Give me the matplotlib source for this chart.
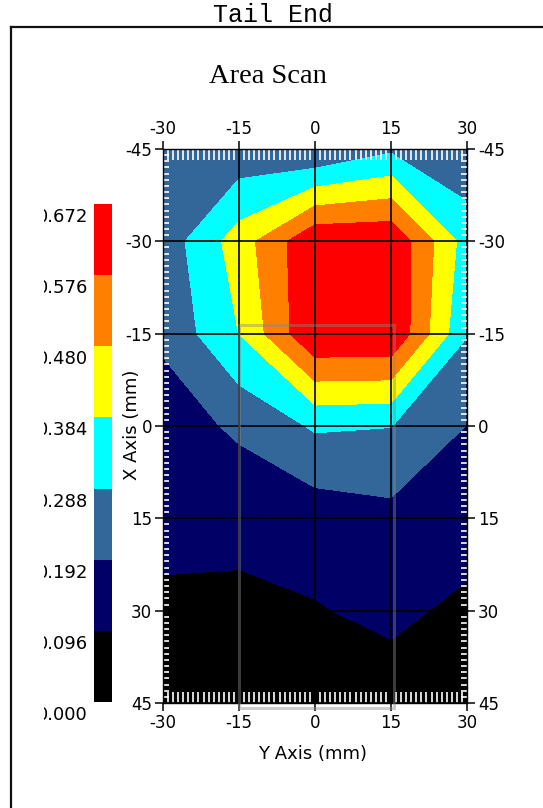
import matplotlib
matplotlib.use("Agg")
import matplotlib.pyplot as plt
import numpy as np
from matplotlib.lines import Line2D
from matplotlib.patches import Rectangle
from matplotlib.ticker import MultipleLocator
from matplotlib.transforms import Bbox, TransformedBbox

# scan grid (mm)
y_axis_mm = [-30, -15, 0, 15, 30]
x_axis_mm = [-45, -30, -15, 0, 15, 30, 45]

# measured values, one row per X Axis position
z_rows = [
    [0.230, 0.220, 0.190, 0.270, 0.220],
    [0.230, 0.430, 0.660, 0.660, 0.340],
    [0.210, 0.385, 0.670, 0.670, 0.292],
    [0.140, 0.210, 0.300, 0.290, 0.190],
    [0.115, 0.117, 0.138, 0.164, 0.140],
    [0.084, 0.079, 0.090, 0.117, 0.075],
    [0.030, 0.030, 0.040, 0.050, 0.040],
]

levels = [0.000, 0.096, 0.192, 0.288, 0.384, 0.480, 0.576, 0.672]
band_colors = ["#000000", "#000066", "#336699", "#00ffff",
               "#ffff00", "#ff8000", "#ff0000"]

W, H = 543, 808


def fx(px):
    return px / W


def fy(px):
    return 1 - px / H


plt.rcParams["font.family"] = "DejaVu Sans"
plt.rcParams["axes.unicode_minus"] = False

fig = plt.figure(figsize=(W / 100, H / 100), dpi=100)

# outer frame (only top and left edges are visible)
fig.add_artist(Line2D([fx(10.5), 1.0], [fy(27), fy(27)], transform=fig.transFigure,
                      color="#111111", lw=1.6))
fig.add_artist(Line2D([fx(10.5), fx(10.5)], [fy(27), 0.0], transform=fig.transFigure,
                      color="#111111", lw=1.6))

fig.text(fx(273), fy(21.7), "Tail End", family="Liberation Mono", size=18,
         ha="center", va="baseline")
fig.text(fx(267.5), fy(83.3), "Area Scan", family="Liberation Serif", size=20.5,
         ha="center", va="baseline")

# main contour plot
ax = fig.add_axes([fx(163), fy(703), (467 - 163) / W, (703 - 149) / H])
X, Y = np.meshgrid(y_axis_mm, x_axis_mm)
Z = np.array(z_rows)
cf = ax.contourf(X, Y, Z, levels=levels, colors=band_colors)

ax.set_xlim(-30, 30)
ax.set_ylim(45, -45)
ax.xaxis.set_major_locator(MultipleLocator(15))
ax.yaxis.set_major_locator(MultipleLocator(15))
ax.xaxis.set_minor_locator(MultipleLocator(1))
ax.yaxis.set_minor_locator(MultipleLocator(1))
ax.grid(which="major", color="black", lw=1.2)

ax.tick_params(which="both", top=True, right=True, labeltop=True, labelright=True)
ax.tick_params(which="major", direction="out", length=6, width=1.1, color="black",
               labelsize=12, pad=2)
ax.tick_params(axis="x", which="minor", direction="in", color="white",
               length=8, width=1.2)
ax.tick_params(axis="y", which="minor", direction="in", color="white",
               length=4.5, width=1.2)
for s in ax.spines.values():
    s.set_color("black")
    s.set_linewidth(1.0)

# faint selection box left on the scan
ax.add_patch(Rectangle((-15, -16.4), 30.6, 62.2, fill=False, edgecolor="#888888",
                       alpha=0.43, lw=2.2, clip_on=False, zorder=3))

fig.text(fx(312.5), fy(754), "Y Axis (mm)", size=13, ha="center", va="center")
fig.text(fx(132), fy(424.5), "X Axis (mm)", size=13, rotation=90,
         ha="center", va="center")

# colour scale on the left
cax = fig.add_axes([fx(94), fy(702), 18 / W, 498 / H])
cb = fig.colorbar(cf, cax=cax)
cb.outline.set_visible(False)
cax.set_yticks([])
cax.tick_params(length=0)

# labels are cut on the left, as in the original export
clip = TransformedBbox(Bbox([[fx(44), 0.0], [fx(130), 1.0]]), fig.transFigure)
band_px = 498 / (len(levels) - 1)
for i, v in enumerate(levels):
    ypx = 702 - i * band_px + 13
    t = fig.text(fx(88), fy(ypx), f"{v:.3f}", size=13, ha="right", va="center")
    t.set_clip_box(clip)
    t.set_clip_on(True)

fig.savefig("out.png", dpi=100)
